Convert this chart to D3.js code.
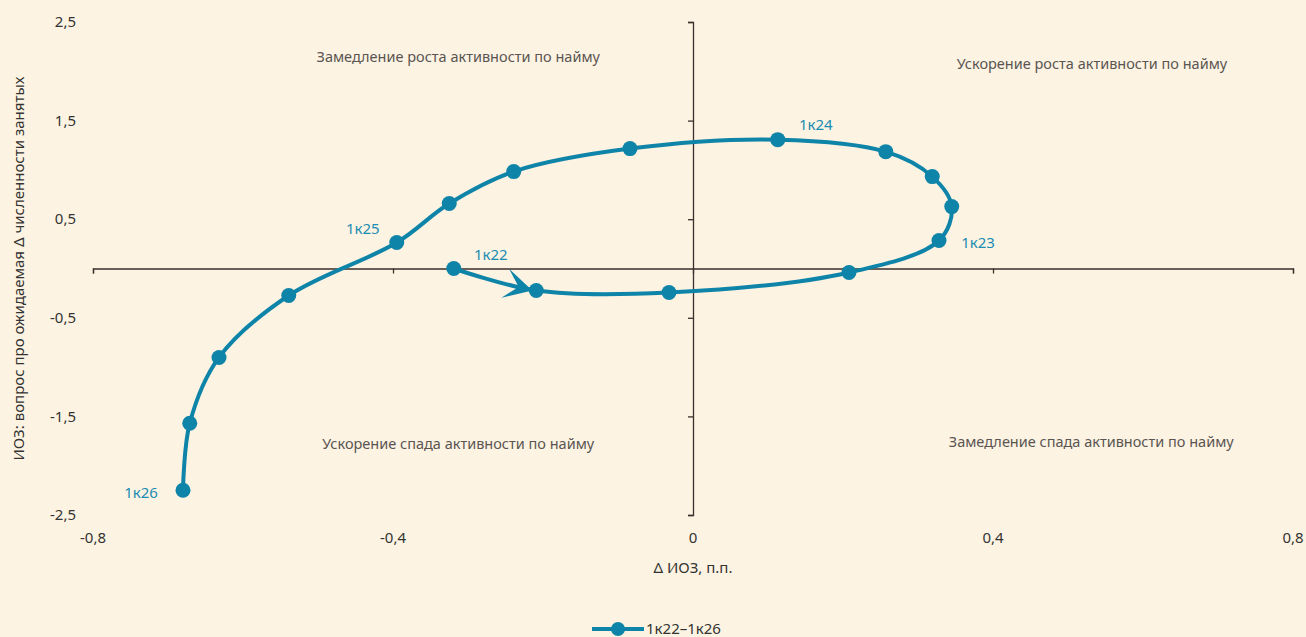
<!DOCTYPE html>
<html>
<head>
<meta charset="utf-8">
<script src="https://cdn.jsdelivr.net/npm/d3@7"></script>
<style>
  body { margin: 0; background: #fdf3e2; }
  svg { display: block; font-family: "Noto Sans", Lato, sans-serif; }
</style>
</head>
<body>
<div id="chart"></div>
<script>
const quarters = ["1к22","2к22","3к22","4к22","1к23","2к23","3к23","4к23","1к24","2к24","3к24","4к24","1к25","2к25","3к25","4к25","1к26"];
const dIoz = [-0.319,-0.209,-0.032,0.208,0.328,0.345,0.319,0.257,0.113,-0.084,-0.239,-0.325,-0.395,-0.539,-0.632,-0.671,-0.680];
const expected = [0.0,-0.223,-0.243,-0.04,0.284,0.628,0.932,1.185,1.307,1.216,0.983,0.659,0.263,-0.274,-0.902,-1.570,-2.249];
const xTicks = [-0.8,-0.4,0,0.4,0.8];
const yTicks = [2.5,1.5,0.5,-0.5,-1.5,-2.5];
const labeled = {"1к22": [37,-14], "1к23": [39,2], "1к24": [38,-15], "1к25": [-34,-14], "1к26": [-42,2]};
const quadrants = [
  {text: "Замедление роста активности по найму", x: -0.313, y: 2.15},
  {text: "Ускорение роста активности по найму", x: 0.532, y: 2.07},
  {text: "Ускорение спада активности по найму", x: -0.313, y: -1.78},
  {text: "Замедление спада активности по найму", x: 0.531, y: -1.76}
];
const legendLabel = "1к22–1к26";

const width = 1306, height = 637;
const color = "#0e84a8";
const data = quarters.map((q, i) => ({q, x: dIoz[i], y: expected[i]}));

const x = d3.scaleLinear().domain([-0.8, 0.8]).range([93, 1293]);
const y = d3.scaleLinear().domain([-2.5, 2.5]).range([515, 22]);
const fmt = d => String(d).replace(".", ",");

const svg = d3.create("svg").attr("width", width).attr("height", height);
svg.append("rect").attr("width", width).attr("height", height).attr("fill", "#fdf3e2");

// axes crossing at zero
svg.append("g")
  .attr("transform", `translate(0,${y(0)})`)
  .call(d3.axisBottom(x).tickValues(xTicks).tickSize(5).tickFormat(""))
  .call(g => g.selectAll("path,line").attr("stroke", "#3a302c").attr("stroke-width", 1.3));
svg.append("g")
  .attr("transform", `translate(${x(0)},0)`)
  .call(d3.axisLeft(y).tickValues(yTicks).tickSize(5).tickFormat(""))
  .call(g => g.selectAll("path,line").attr("stroke", "#3a302c").attr("stroke-width", 1.3));

// tick labels
svg.append("g").selectAll("text").data(xTicks).join("text")
  .attr("x", d => x(d)).attr("y", 543)
  .attr("text-anchor", "middle").attr("font-size", 15).attr("fill", "#333")
  .text(fmt);
svg.append("g").selectAll("text").data(yTicks).join("text")
  .attr("x", 76).attr("y", d => y(d)).attr("dy", "0.35em")
  .attr("text-anchor", "end").attr("font-size", 15).attr("fill", "#333")
  .text(fmt);

svg.append("text").attr("x", x(0)).attr("y", 573).attr("text-anchor", "middle")
  .attr("font-size", 15).attr("fill", "#333").text("Δ ИОЗ, п.п.");
svg.append("text").attr("transform", `translate(24,${y(0)}) rotate(-90)`)
  .attr("text-anchor", "middle").attr("font-size", 15).attr("fill", "#333")
  .text("ИОЗ: вопрос про ожидаемая Δ численности занятых");

svg.append("g").selectAll("text").data(quadrants).join("text")
  .attr("x", d => x(d.x)).attr("y", d => y(d.y)).attr("dy", "0.35em")
  .attr("text-anchor", "middle").attr("font-size", 14.5).attr("fill", "#5a5552")
  .text(d => d.text);

// curve
const line = d3.line().x(d => x(d.x)).y(d => y(d.y)).curve(d3.curveCatmullRom.alpha(0.5));
svg.append("path").datum(data).attr("d", line)
  .attr("fill", "none").attr("stroke", color).attr("stroke-width", 4);

// arrow on first segment
const p0 = data[0], p1 = data[1];
const ang = Math.atan2(y(p1.y) - y(p0.y), x(p1.x) - x(p0.x)) * 180 / Math.PI;
svg.append("path")
  .attr("d", "M0,0 L-28,-15 L-14,0 L-28,15 Z")
  .attr("transform", `translate(${x(p1.x) - 4},${y(p1.y)}) rotate(${ang})`)
  .attr("fill", color);

svg.append("g").selectAll("circle").data(data).join("circle")
  .attr("cx", d => x(d.x)).attr("cy", d => y(d.y)).attr("r", 7.5)
  .attr("fill", color);

svg.append("g").selectAll("text").data(data.filter(d => labeled[d.q])).join("text")
  .attr("x", d => x(d.x) + labeled[d.q][0]).attr("y", d => y(d.y) + labeled[d.q][1])
  .attr("dy", "0.35em").attr("text-anchor", "middle")
  .attr("font-size", 15).attr("fill", "#1a8db3")
  .text(d => d.q);

// legend
const lg = svg.append("g").attr("transform", "translate(592,629)");
lg.append("line").attr("x1", 0).attr("x2", 52).attr("stroke", color).attr("stroke-width", 4);
lg.append("circle").attr("cx", 26).attr("r", 7).attr("fill", color);
lg.append("text").attr("x", 54).attr("dy", "0.35em").attr("font-size", 15).attr("fill", "#333").text(legendLabel);

document.getElementById("chart").appendChild(svg.node());
</script>
</body>
</html>
